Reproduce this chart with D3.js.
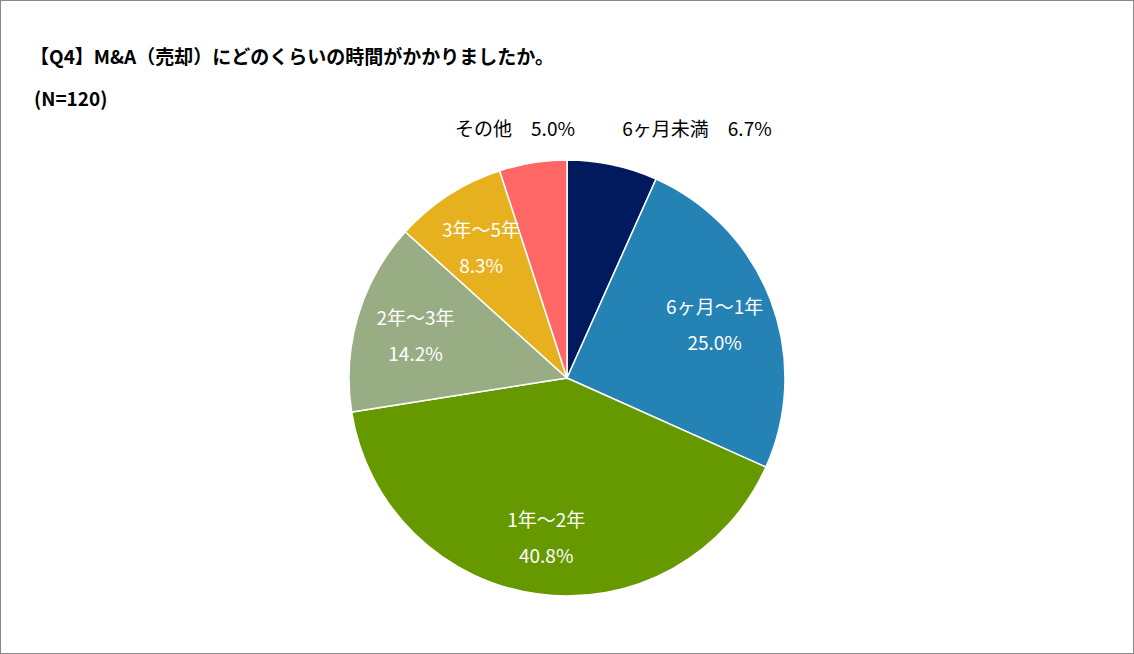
<!DOCTYPE html>
<html><head><meta charset="utf-8">
<script src="https://cdn.jsdelivr.net/npm/d3@7"></script>
<style>body{margin:0;background:#fff}</style>
</head><body>
<svg id="c" width="1134" height="654"></svg>
<script>
const categories = ["6ヶ月未満", "6ヶ月～1年", "1年～2年", "2年～3年", "3年～5年", "その他"];
const values = [6.7, 25.0, 40.8, 14.2, 8.3, 5.0];
const colors = ["#001a5e", "#2482b4", "#669900", "#99ad85", "#e6b01e", "#ff6666"];

const svg = d3.select("#c");
const font = "'Noto Sans CJK JP', Verdana, sans-serif";
svg.append("rect").attr("x", 0.5).attr("y", 0.5).attr("width", 1133).attr("height", 653)
  .attr("fill", "#fff").attr("stroke", "#888");
svg.append("text").attr("x", 30).attr("y", 64).attr("font-family", font).attr("font-weight", "bold")
  .attr("font-size", 19).text("【Q4】M&A（売却）にどのくらいの時間がかかりましたか。");
svg.append("text").attr("x", 34).attr("y", 106).attr("font-family", font).attr("font-weight", "bold")
  .attr("font-size", 19).text("(N=120)");

const cx = 567, cy = 378, r = 218;
const pie = d3.pie().sort(null).value(d => d)(values);
const arc = d3.arc().innerRadius(0).outerRadius(r);
const g = svg.append("g").attr("transform", `translate(${cx},${cy})`);
g.selectAll("path").data(pie).enter().append("path")
  .attr("d", arc).attr("fill", (d, i) => colors[i]).attr("stroke", "#fff").attr("stroke-width", 1.5);

const labelArc = d3.arc().innerRadius(r * 0.5).outerRadius(r * 0.95);
pie.forEach((d, i) => {
  if (i === 0 || i === 5) {
    const x = i === 0 ? 130 : -52;
    g.append("text").attr("x", x).attr("y", -242).attr("text-anchor", "middle")
      .attr("font-family", font).attr("font-size", 19).attr("fill", "#000")
      .text(categories[i] + "　" + values[i].toFixed(1) + "%");
  } else {
    const [x, y] = labelArc.centroid(d);
    const t = g.append("text").attr("text-anchor", "middle").attr("font-family", font)
      .attr("font-size", 19).attr("fill", "#fff");
    t.append("tspan").attr("x", x).attr("y", y - 8).text(categories[i]);
    t.append("tspan").attr("x", x).attr("y", y + 28).text(values[i].toFixed(1) + "%");
  }
});
</script>
</body></html>
